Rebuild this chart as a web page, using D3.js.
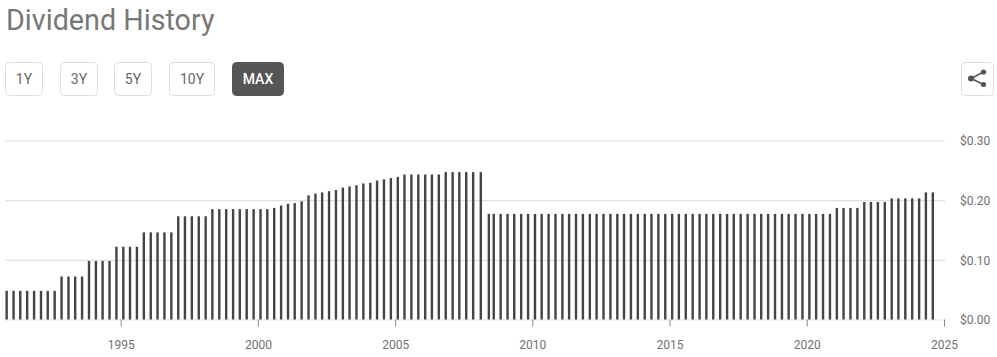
<!DOCTYPE html>
<html>
<head>
<meta charset="utf-8">
<script src="https://cdn.jsdelivr.net/npm/d3@7"></script>
<style>
  html, body { margin: 0; padding: 0; background: #fff; overflow: hidden; }
  text { font-family: Roboto, sans-serif; }
  .axis .domain { display: none; }
</style>
</head>
<body>
<div id="chart"></div>
<script>
// payment dates, one row per year
const payDates = [
  "1990-11-05",
  "1991-02-05","1991-05-05","1991-08-05","1991-11-05",
  "1992-02-05","1992-05-05","1992-08-05","1992-11-05",
  "1993-02-05","1993-05-05","1993-08-05","1993-11-05",
  "1994-02-05","1994-05-05","1994-08-05","1994-11-05",
  "1995-02-05","1995-05-05","1995-08-05","1995-11-05",
  "1996-02-05","1996-05-05","1996-08-05","1996-11-05",
  "1997-02-05","1997-05-05","1997-08-05","1997-11-05",
  "1998-02-05","1998-05-05","1998-08-05","1998-11-05",
  "1999-02-05","1999-05-05","1999-08-05","1999-11-05",
  "2000-02-05","2000-05-05","2000-08-05","2000-11-05",
  "2001-02-05","2001-05-05","2001-08-05","2001-11-05",
  "2002-02-05","2002-05-05","2002-08-05","2002-11-05",
  "2003-02-05","2003-05-05","2003-08-05","2003-11-05",
  "2004-02-05","2004-05-05","2004-08-05","2004-11-05",
  "2005-02-05","2005-05-05","2005-08-05","2005-11-05",
  "2006-02-05","2006-05-05","2006-08-05","2006-11-05",
  "2007-02-05","2007-05-05","2007-08-05","2007-11-05",
  "2008-02-15","2008-06-01","2008-08-05","2008-11-05",
  "2009-02-05","2009-05-05","2009-08-05","2009-11-05",
  "2010-02-05","2010-05-05","2010-08-05","2010-11-05",
  "2011-02-05","2011-05-05","2011-08-05","2011-11-05",
  "2012-02-05","2012-05-05","2012-08-05","2012-11-05",
  "2013-02-05","2013-05-05","2013-08-05","2013-11-05",
  "2014-02-05","2014-05-05","2014-08-05","2014-11-05",
  "2015-02-05","2015-05-05","2015-08-05","2015-11-05",
  "2016-02-05","2016-05-05","2016-08-05","2016-11-05",
  "2017-02-05","2017-05-05","2017-08-05","2017-11-05",
  "2018-02-05","2018-05-05","2018-08-05","2018-11-05",
  "2019-02-05","2019-05-05","2019-08-05","2019-11-05",
  "2020-02-05","2020-05-05","2020-08-05","2020-11-05",
  "2021-02-05","2021-05-05","2021-08-05","2021-11-05",
  "2022-02-05","2022-05-05","2022-08-05","2022-11-05",
  "2023-02-05","2023-05-05","2023-08-05","2023-11-05",
  "2024-02-05","2024-05-05","2024-08-05"
];

// same rows as payDates
const dividends = [
  0.048,
  0.048,0.048,0.048,0.048,
  0.048,0.048,0.048,0.072,
  0.072,0.072,0.072,0.098,
  0.098,0.098,0.098,0.122,
  0.122,0.122,0.122,0.146,
  0.146,0.146,0.146,0.146,
  0.173,0.173,0.173,0.173,
  0.173,0.185,0.185,0.185,
  0.185,0.185,0.185,0.185,
  0.185,0.185,0.187,0.191,
  0.194,0.195,0.198,0.208,
  0.211,0.213,0.215,0.217,
  0.221,0.223,0.225,0.228,
  0.229,0.233,0.235,0.237,
  0.239,0.243,0.243,0.243,
  0.243,0.243,0.243,0.247,
  0.247,0.247,0.247,0.247,
  0.247,0.177,0.177,0.177,
  0.177,0.177,0.177,0.177,
  0.177,0.177,0.177,0.177,
  0.177,0.177,0.177,0.177,
  0.177,0.177,0.177,0.177,
  0.177,0.177,0.177,0.177,
  0.177,0.177,0.177,0.177,
  0.177,0.177,0.177,0.177,
  0.177,0.177,0.177,0.177,
  0.177,0.177,0.177,0.177,
  0.177,0.177,0.177,0.177,
  0.177,0.177,0.177,0.177,
  0.177,0.177,0.177,0.177,
  0.187,0.187,0.187,0.187,
  0.197,0.197,0.197,0.197,
  0.203,0.203,0.203,0.203,
  0.203,0.213,0.213
];

const yearTicks = [1995, 2000, 2005, 2010, 2015, 2020, 2025];
const valueTicks = [0, 0.1, 0.2, 0.3];
const rangeButtons = ["1Y", "3Y", "5Y", "10Y", "MAX"];
const buttonBoxes = [[5, 38], [60, 38], [114, 38], [169, 46], [232, 52]];

const width = 997, height = 357;
const parseDay = d3.timeParse("%Y-%m-%d");

const svg = d3.select("#chart").append("svg")
  .attr("width", width)
  .attr("height", height)
  .style("display", "block");

const x = d3.scaleTime()
  .domain([new Date(1995, 0, 1), new Date(2025, 0, 1)])
  .range([120.7, 944]);

const y = d3.scaleLinear()
  .domain([0, 0.3])
  .range([319.5, 140.5]);

// title
svg.append("text")
  .attr("x", 6)
  .attr("y", 30)
  .attr("font-size", 28.7)
  .attr("fill", "#777")
  .text("Dividend History");

// range buttons
const btn = svg.selectAll(".btn")
  .data(rangeButtons)
  .enter()
  .append("g")
  .attr("class", "btn")
  .attr("transform", (d, i) => `translate(${buttonBoxes[i][0]},62)`);

btn.append("rect")
  .attr("x", 0.5)
  .attr("y", 0.5)
  .attr("width", (d, i) => buttonBoxes[i][1] - 1)
  .attr("height", 33)
  .attr("rx", 4)
  .attr("fill", d => d === "MAX" ? "#555" : "#fff")
  .attr("stroke", d => d === "MAX" ? "#555" : "#ddd");

btn.append("text")
  .attr("x", (d, i) => buttonBoxes[i][1] / 2)
  .attr("y", 22)
  .attr("text-anchor", "middle")
  .attr("font-size", 14)
  .attr("font-weight", d => d === "MAX" ? 500 : 400)
  .attr("fill", d => d === "MAX" ? "#fff" : "#666")
  .text(d => d);

// share button
const share = svg.append("g").attr("transform", "translate(961,62)");
share.append("rect")
  .attr("x", 0.5)
  .attr("y", 0.5)
  .attr("width", 32)
  .attr("height", 33)
  .attr("rx", 4)
  .attr("fill", "#fff")
  .attr("stroke", "#ddd");
share.append("path")
  .attr("d", "M22.5,10 L10,16.5 L22.5,22.5")
  .attr("fill", "none")
  .attr("stroke", "#555")
  .attr("stroke-width", 1.6);
share.selectAll("circle")
  .data([[22.5, 10, 2.6], [10, 16.5, 3], [22.5, 22.5, 2.6]])
  .enter()
  .append("circle")
  .attr("cx", d => d[0])
  .attr("cy", d => d[1])
  .attr("r", d => d[2])
  .attr("fill", "#555");

// gridlines and value labels
const yAxis = d3.axisRight(y)
  .tickValues(valueTicks)
  .tickSize(940)
  .tickPadding(15)
  .tickFormat(d3.format("$.2f"));

const yG = svg.append("g")
  .attr("class", "axis")
  .attr("transform", "translate(5,0)")
  .call(yAxis);
yG.selectAll("line").attr("stroke", "#e0e0e0").attr("stroke-width", 1.2);
yG.selectAll("text")
  .attr("y", 0.6)
  .attr("font-size", 12)
  .attr("fill", "#707070")
  .style("font-family", "Roboto, sans-serif");

// bars
svg.selectAll(".bar")
  .data(dividends)
  .enter()
  .append("rect")
  .attr("class", "bar")
  .attr("x", (d, i) => x(parseDay(payDates[i])) - 1.2)
  .attr("y", d => y(d))
  .attr("width", 2.4)
  .attr("height", d => y(0) - y(d))
  .attr("fill", "#444");

// year ticks
const xAxis = d3.axisBottom(x)
  .tickValues(yearTicks.map(v => new Date(v, 0, 1)))
  .tickSize(7)
  .tickPadding(14)
  .tickFormat(d3.timeFormat("%Y"));

const xG = svg.append("g")
  .attr("class", "axis")
  .attr("transform", "translate(0,319.5)")
  .call(xAxis);
xG.selectAll("line").attr("stroke", "#888");
xG.selectAll("text")
  .attr("font-size", 12)
  .attr("fill", "#707070")
  .style("font-family", "Roboto, sans-serif");
</script>
</body>
</html>
